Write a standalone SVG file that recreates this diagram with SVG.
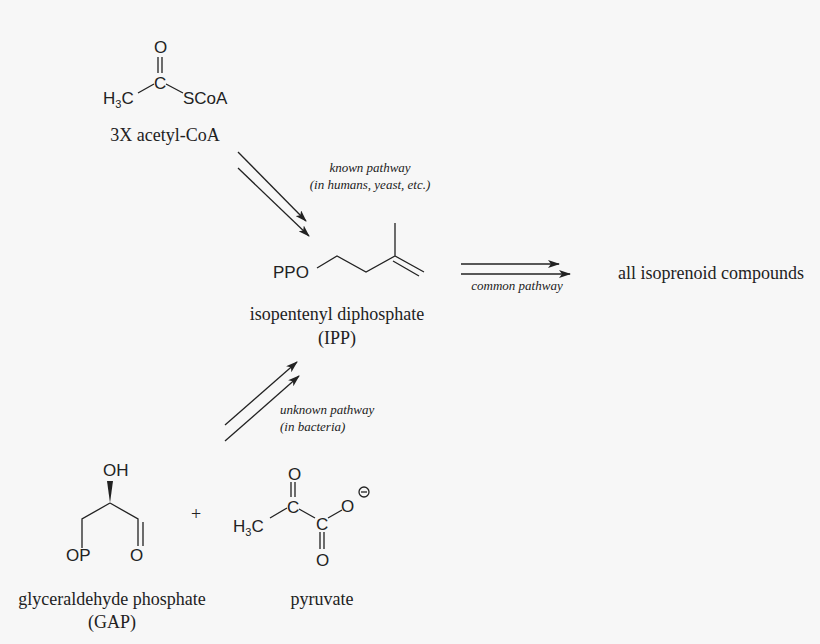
<svg xmlns="http://www.w3.org/2000/svg" width="820" height="644" viewBox="0 0 820 644">
<style>
.b{stroke:#222;stroke-width:1.3;fill:none}
.a{font-family:"Liberation Sans",Arial,sans-serif;font-size:17px;fill:#222}
.s{font-size:11px}
.c{font-family:"Liberation Serif","Times New Roman",serif;font-size:18px;fill:#222;text-anchor:middle}
.i{font-family:"Liberation Serif","Times New Roman",serif;font-size:13px;font-style:italic;fill:#222}
</style>
<defs><marker id="m" markerWidth="12" markerHeight="8" refX="11" refY="4" orient="auto" markerUnits="userSpaceOnUse"><path d="M0,0 L12,4 L0,8 L3,4 Z" fill="#222"/></marker></defs>
<rect width="820" height="644" fill="#f7f7f7"/>
<g id="acetylcoa">
<text class="a" x="154" y="53">O</text>
<path class="b" d="M158,57V73M162,57V73M138,93L154,84M166,84L183,93"/>
<text class="a" x="154" y="89">C</text>
<text class="a" x="103" y="104">H<tspan class="s" dy="4">3</tspan><tspan dy="-4">C</tspan></text>
<text class="a" x="183" y="104">SCoA</text>
<text class="c" x="165" y="141">3X acetyl-CoA</text>
</g>
<g id="ipp">
<text class="a" x="273" y="278">PPO</text>
<path class="b" d="M317,268L337,256L366,272L395,256L424,272M393,261L419,276M395,256V223"/>
<text class="c" x="337" y="320">isopentenyl diphosphate</text>
<text class="c" x="337" y="344">(IPP)</text>
</g>
<g id="iso"><text class="c" x="711" y="279">all isoprenoid compounds</text></g>
<g id="gap">
<text class="a" x="103" y="476">OH</text>
<path d="M110,503L107,481L113,481Z" fill="#222"/>
<path class="b" d="M110,503L82,519V548M110,503L138,519V546M143,522V546"/>
<text class="a" x="66" y="561">OP</text>
<text class="a" x="130" y="561">O</text>
<text class="c" x="112" y="605">glyceraldehyde phosphate</text>
<text class="c" x="112" y="628">(GAP)</text>
</g>
<text id="plus" class="c" x="196" y="520">+</text>
<g id="pyruvate">
<text class="a" x="233" y="532">H<tspan class="s" dy="4">3</tspan><tspan dy="-4">C</tspan></text>
<path class="b" d="M270,518L287,508M291,482V497M295,482V497M299,509L315,518M328,518L342,510M320,532V549M324,532V549"/>
<text class="a" x="288" y="480">O</text>
<text class="a" x="287" y="513">C</text>
<text class="a" x="316" y="530">C</text>
<text class="a" x="341" y="512">O</text>
<text class="a" x="316" y="566">O</text>
<circle cx="364" cy="492" r="5" class="b" stroke-width="1"/>
<path class="b" stroke-width="1" d="M361,492H367"/>
<text class="c" x="322" y="605">pyruvate</text>
</g>
<g id="connectors">
<path class="b" marker-end="url(#m)" d="M238,152L306,221"/>
<path class="b" marker-end="url(#m)" d="M238,168L309,236"/>
<path class="b" marker-end="url(#m)" d="M461,264H559"/>
<path class="b" marker-end="url(#m)" d="M461,274H570"/>
<path class="b" marker-end="url(#m)" d="M225,425L297,362"/>
<path class="b" marker-end="url(#m)" d="M225,441L299,376"/>
<text class="i" x="370" y="172" text-anchor="middle">known pathway</text>
<text class="i" x="370" y="189" text-anchor="middle">(in humans, yeast, etc.)</text>
<text class="i" x="517" y="290" text-anchor="middle">common pathway</text>
<text class="i" x="280" y="414">unknown pathway</text>
<text class="i" x="280" y="431">(in bacteria)</text>
</g>
</svg>
